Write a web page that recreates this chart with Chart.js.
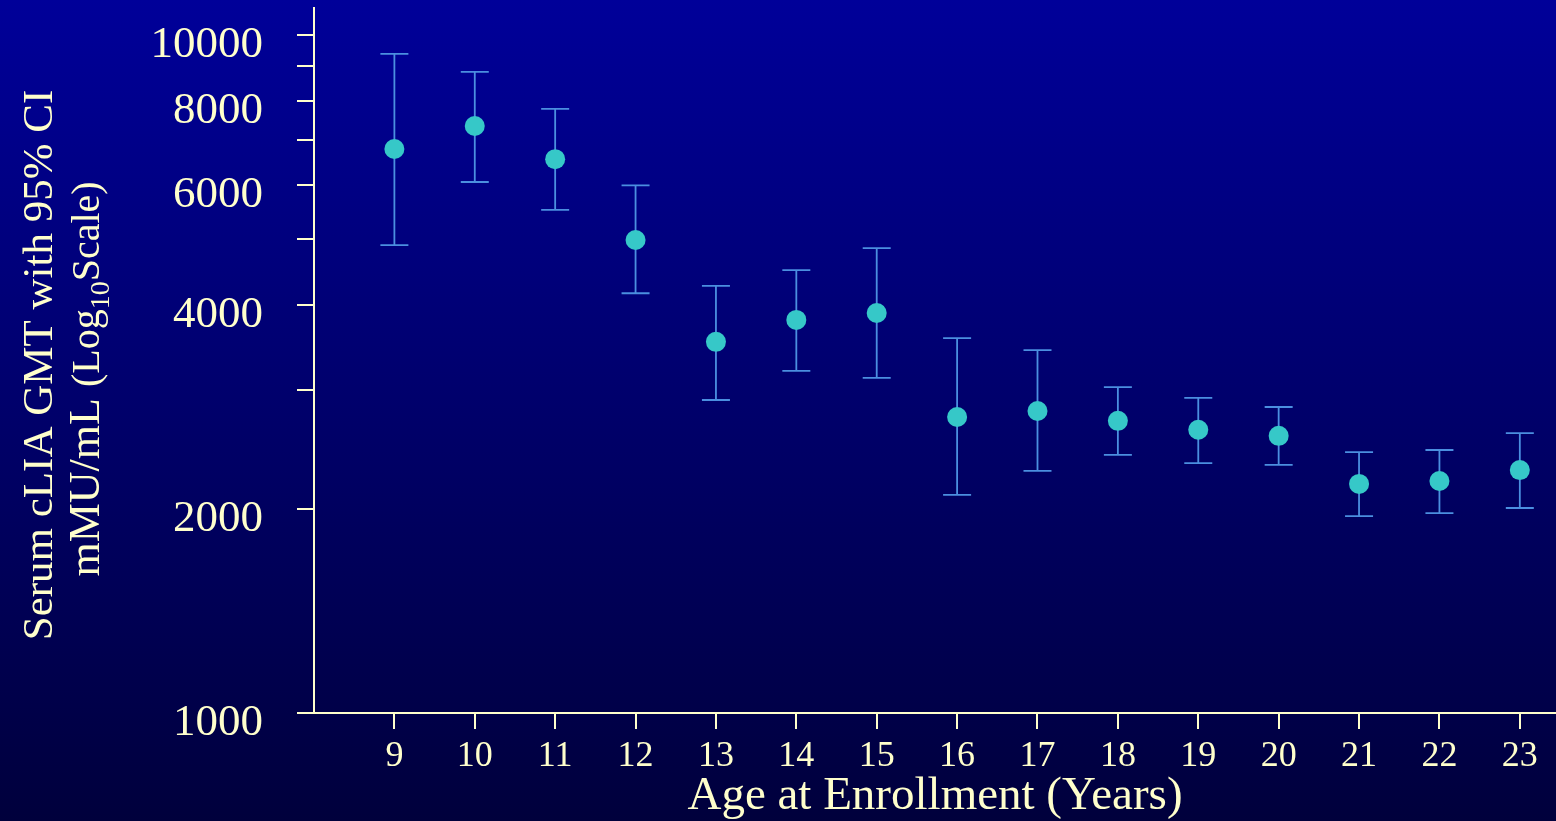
<!DOCTYPE html>
<html>
<head>
<meta charset="utf-8">
<script src="https://cdn.jsdelivr.net/npm/chart.js@4"></script>
<style>
  html, body { margin: 0; padding: 0; }
  body { width: 1556px; height: 821px; overflow: hidden;
         background: linear-gradient(#000099, #00003c); }
  canvas { display: block; }
</style>
</head>
<body>
<canvas id="grafico" width="1556" height="821"></canvas>
<script>
// idade na entrada e GMT com IC 95%
var idades = [9, 10, 11, 12, 13, 14, 15, 16, 17, 18, 19, 20, 21, 22, 23];
var gmt    = [6790, 7340, 6560, 4985, 3527, 3800, 3890, 2733, 2789, 2697, 2617, 2563, 2177, 2199, 2282];
var icBaixo = [4900, 6070, 5520, 4160, 2895, 3195, 3120, 2097, 2275, 2402, 2337, 2322, 1952, 1972, 2006];
var icAlto  = [9376, 8820, 7780, 6000, 4265, 4500, 4850, 3573, 3430, 3025, 2915, 2827, 2426, 2443, 2587];

var ticksY = [1000, 2000, 3000, 4000, 5000, 6000, 7000, 8000, 9000, 10000];
var rotulosY = [1000, 2000, 4000, 6000, 8000, 10000];

var creme = '#ffffcc';
Chart.defaults.font.family = "'Liberation Serif', 'Times New Roman', serif";
Chart.defaults.color = creme;

var pontos = [];
for (var i = 0; i < idades.length; i++) {
    pontos.push({ x: idades[i], y: gmt[i] });
}

// barras de erro desenhadas antes dos pontos
var barrasErro = {
    id: 'barrasErro',
    beforeDatasetsDraw(chart) {
        var ctx = chart.ctx, sx = chart.scales.x, sy = chart.scales.y;
        ctx.save();
        ctx.strokeStyle = '#4b8fe0';
        ctx.lineWidth = 1.8;
        for (var i = 0; i < idades.length; i++) {
            var px = sx.getPixelForValue(idades[i]);
            var topo = sy.getPixelForValue(icAlto[i]);
            var base = sy.getPixelForValue(icBaixo[i]);
            ctx.beginPath();
            ctx.moveTo(px, topo); ctx.lineTo(px, base);
            ctx.moveTo(px - 14, topo); ctx.lineTo(px + 14, topo);
            ctx.moveTo(px - 14, base); ctx.lineTo(px + 14, base);
            ctx.stroke();
        }
        ctx.restore();
    }
};

// titulo do eixo Y com subscrito
var tituloY = {
    id: 'tituloY',
    afterDraw(chart) {
        var ctx = chart.ctx;
        var fam = Chart.defaults.font.family;
        ctx.save();
        ctx.fillStyle = creme;
        ctx.textBaseline = 'alphabetic';
        ctx.textAlign = 'left';

        // linha 1
        ctx.save();
        ctx.translate(52, 365);
        ctx.rotate(-Math.PI / 2);
        ctx.font = '43px ' + fam;
        var t1 = 'Serum cLIA GMT with 95% CI';
        var w1 = ctx.measureText(t1).width;
        ctx.fillText(t1, -w1 / 2, 0);
        ctx.restore();

        // linha 2
        ctx.save();
        ctx.translate(99, 379);
        ctx.rotate(-Math.PI / 2);
        var partes = [
            { t: 'mMU/mL ', f: '44px ', dy: 0 },
            { t: '(Log', f: '40px ', dy: 0 },
            { t: '10', f: '28px ', dy: 10 },
            { t: 'Scale)', f: '40px ', dy: 0 }
        ];
        var total = 0;
        partes.forEach(function (p) { ctx.font = p.f + fam; p.w = ctx.measureText(p.t).width; total += p.w; });
        var x = -total / 2;
        partes.forEach(function (p) {
            ctx.font = p.f + fam;
            ctx.fillText(p.t, x, p.dy);
            x += p.w;
        });
        ctx.restore();
        ctx.restore();
    }
};

new Chart(document.getElementById('grafico'), {
    type: 'scatter',
    data: {
        datasets: [{
            data: pontos,
            pointRadius: 10,
            pointHoverRadius: 10,
            pointBackgroundColor: '#36c8c8',
            pointBorderColor: '#36c8c8',
            pointBorderWidth: 0
        }]
    },
    options: {
        responsive: false,
        animation: false,
        devicePixelRatio: 1,
        layout: { autoPadding: false, padding: { top: 8, right: 0, left: 0, bottom: 0 } },
        plugins: {
            legend: { display: false },
            tooltip: { enabled: false }
        },
        scales: {
            x: {
                type: 'linear',
                min: 8,
                max: 23.45,
                afterBuildTicks: function (scale) {
                    scale.ticks = idades.map(function (v) { return { value: v }; });
                },
                afterFit: function (scale) {
                    scale.height = 108;
                    scale.paddingLeft = 0; scale.paddingRight = 0;
                },
                border: { color: creme, width: 2 },
                grid: { drawOnChartArea: false, color: creme, lineWidth: 2, tickLength: 16 },
                ticks: { autoSkip: false, maxRotation: 0, padding: 6, color: creme,
                         font: { size: 36 } },
                title: {
                    display: true,
                    text: 'Age at Enrollment (Years)',
                    color: creme,
                    font: { size: 47, lineHeight: 1.05 },
                    padding: 0
                }
            },
            y: {
                type: 'logarithmic',
                min: 1000,
                max: 10960,
                afterBuildTicks: function (scale) {
                    scale.ticks = ticksY.map(function (v) { return { value: v }; });
                },
                afterFit: function (scale) {
                    scale.width = 314;
                    scale.paddingTop = 0; scale.paddingBottom = 0;
                },
                border: { color: creme, width: 2 },
                grid: { drawOnChartArea: false, color: creme, lineWidth: 2, tickLength: 17 },
                ticks: {
                    autoSkip: false,
                    padding: 34,
                    labelOffset: 10,
                    color: creme,
                    font: { size: 45 },
                    callback: function (v) {
                        return rotulosY.indexOf(v) >= 0 ? String(v) : '';
                    }
                }
            }
        }
    },
    plugins: [barrasErro, tituloY]
});
</script>
</body>
</html>
